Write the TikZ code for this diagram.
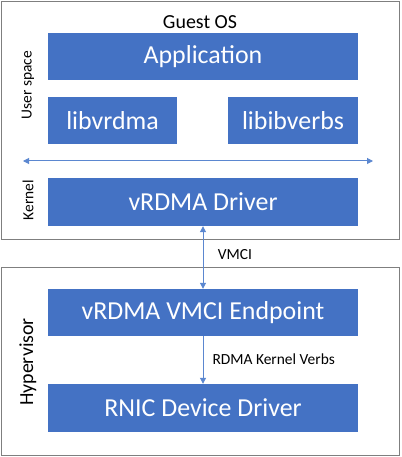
\documentclass[tikz,border=0pt]{standalone}
\usepackage{fontspec}
\setmainfont{Carlito}
\usetikzlibrary{arrows.meta}
\definecolor{boxblue}{HTML}{4472C4}
\definecolor{arrowblue}{HTML}{5B87D0}
\definecolor{framegray}{HTML}{7F7F7F}
\tikzset{
  layer/.style={fill=boxblue, text=white, inner sep=0pt, minimum width=310bp,
    minimum height=47bp, font=\fontsize{26}{30}\selectfont},
  frame/.style={draw=framegray, line width=1bp},
  link/.style={draw=arrowblue, line width=1bp, {Triangle[length=6bp,width=6bp]}-{Triangle[length=6bp,width=6bp]}},
  onelink/.style={draw=arrowblue, line width=1bp, -{Triangle[length=6bp,width=6bp]}},
  small/.style={font=\fontsize{15.5}{18}\selectfont},
  big/.style={font=\fontsize{20}{24}\selectfont}
}
\begin{document}
\begin{tikzpicture}[x=1bp, y=-1bp]
  \useasboundingbox (0,0) rectangle (401,457);

      % guest side
      \draw[frame] (1.5,1.5) rectangle (399.5,239);
        \node[big] (guest) at (200,22){Guest OS};
        \node[layer] (app) at (203,56.5){Application};
        \node[layer, minimum width=129bp] (libv) at (112.5,120.5){libvrdma};
        \node[layer, minimum width=130bp] (libi) at (293,120.5){libibverbs};
        \coordinate (ul) at (23,161);
        \coordinate (ur) at (373,161);
        \draw[link] (ul) -- (ur);
        \node[layer, minimum height=48bp] (drv) at (203,202){vRDMA Driver};
        \node[small, rotate=90] (user) at (28,85){User space};
        \node[small, rotate=90] (kern) at (28,200){Kernel};

      % hypervisor side
      \draw[frame] (1.5,267) rectangle (399.5,455.5);
        \node[layer] (ep) at (203,312.5){vRDMA VMCI Endpoint};
        \node[layer, minimum height=48bp] (rnic) at (203,408){RNIC Device Driver};
        \node[big, rotate=90] (hyp) at (28,362){Hypervisor};

      \draw[link] (drv) -- (ep);
        \node[small] (vmci) at (235,255){VMCI};
      \draw[onelink] (ep) -- (rnic);
        \node[small, anchor=west] (verbs) at (209,359){RDMA Kernel Verbs};

\end{tikzpicture}
\end{document}
